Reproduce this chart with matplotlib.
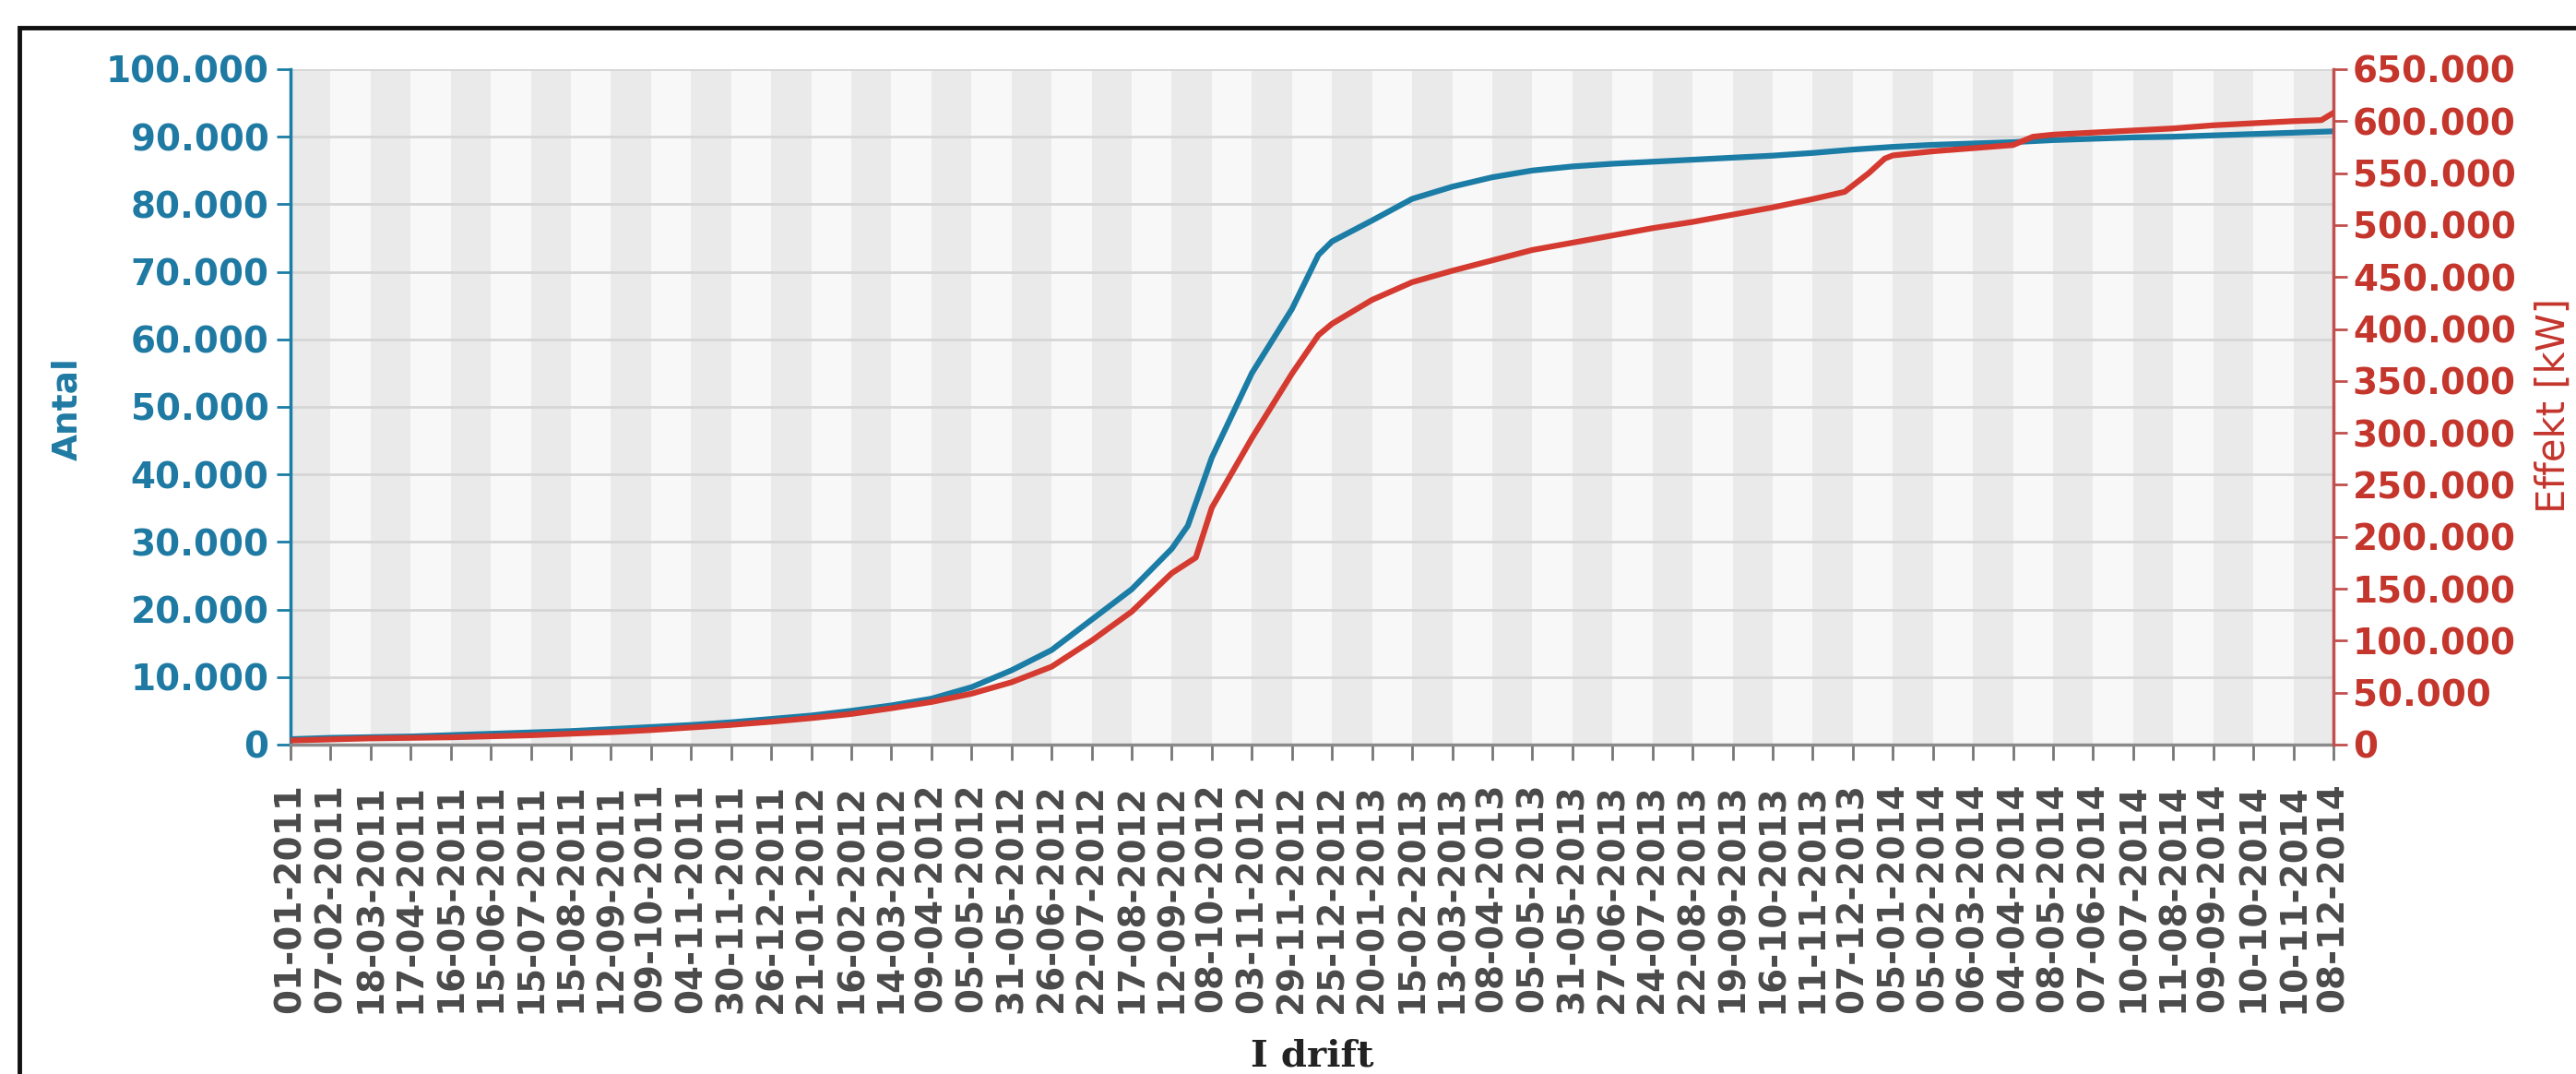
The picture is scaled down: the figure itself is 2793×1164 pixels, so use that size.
import matplotlib
matplotlib.use("Agg")
import matplotlib.pyplot as plt
from matplotlib.patches import Rectangle

# ---------------- data ----------------
date_labels = [
    "01-01-2011", "07-02-2011", "18-03-2011", "17-04-2011", "16-05-2011", "15-06-2011",
    "15-07-2011", "15-08-2011", "12-09-2011", "09-10-2011", "04-11-2011", "30-11-2011",
    "26-12-2011", "21-01-2012", "16-02-2012", "14-03-2012", "09-04-2012", "05-05-2012",
    "31-05-2012", "26-06-2012", "22-07-2012", "17-08-2012", "12-09-2012", "08-10-2012",
    "03-11-2012", "29-11-2012", "25-12-2012", "20-01-2013", "15-02-2013", "13-03-2013",
    "08-04-2013", "05-05-2013", "31-05-2013", "27-06-2013", "24-07-2013", "22-08-2013",
    "19-09-2013", "16-10-2013", "11-11-2013", "07-12-2013", "05-01-2014", "05-02-2014",
    "06-03-2014", "04-04-2014", "08-05-2014", "07-06-2014", "10-07-2014", "11-08-2014",
    "09-09-2014", "10-10-2014", "10-11-2014", "08-12-2014",
]

# Antal (count) series: positions along the category axis and values
antal_pos = [0, 1, 2, 3, 4, 5, 6, 7, 8, 9, 10, 11, 12, 13, 14, 15, 16, 17, 18, 19, 20, 21, 22,
             22.4, 23, 24, 25, 25.66, 26, 27, 28, 29, 30, 31, 32, 33, 34, 35, 36, 37, 38, 39,
             40, 41, 42, 43, 44, 45, 46, 47, 48, 49, 50, 51]
antal_values = [800, 1000, 1100, 1200, 1400, 1600, 1800, 2000, 2300, 2600, 2900, 3300, 3800,
                4300, 5000, 5800, 6800, 8500, 11000, 14000, 18500, 23000, 29000,
                32400, 42500, 55000, 64500, 72500, 74500, 77600, 80800, 82600, 84000, 85000,
                85600, 86000, 86300, 86600, 86900, 87200, 87600, 88100,
                88500, 88800, 89000, 89200, 89500, 89700, 89900, 90000, 90200, 90400, 90600, 90800]

# Effekt [kW] series
effekt_pos = [0, 1, 2, 3, 4, 5, 6, 7, 8, 9, 10, 11, 12, 13, 14, 15, 16, 17, 18, 19, 20, 21, 22,
              22.6, 23, 24, 25, 25.66, 26, 27, 28, 29, 30, 31, 32, 33, 34, 35, 36, 37, 38,
              38.8, 39.4, 39.8, 40, 41, 42, 43, 43.5, 44, 45, 46, 47, 48, 49, 50, 50.7, 51]
effekt_values = [4000, 5000, 6000, 6500, 7000, 8000, 9000, 10500, 12000, 14000, 16500, 19000,
                 22000, 25500, 29500, 35000, 41000, 49000, 60000, 75000, 100000, 128000, 165000,
                 180000, 228000, 295000, 357000, 394000, 405000, 428000, 445000, 456000, 466000,
                 476000, 483000, 490000, 497000, 503000, 510000, 517000, 525000,
                 532000, 550000, 564000, 567000, 571000, 574000, 577000, 585000, 587000, 589000,
                 591000, 593000, 596000, 598000, 600000, 601000, 608000]

left_ticks = list(range(0, 100001, 10000))
right_ticks = list(range(0, 650001, 50000))

# ---------------- style ----------------
BLUE = "#1b7ca6"
BLUE_TXT = "#1f7aa3"
RED = "#d43a2f"
RED_TXT = "#c4352c"
GRAY_TXT = "#4a4a4a"

W, H = 2793, 1164
fig = plt.figure(figsize=(W / 100, H / 100), dpi=100)
fig.patch.set_facecolor("white")

x0, x1 = 315, 2530
y_top, y_bot = 75, 807
ax = fig.add_axes([x0 / W, 1 - y_bot / H, (x1 - x0) / W, (y_bot - y_top) / H])
ax.set_facecolor("#f8f8f8")

n = len(date_labels)
ax.set_xlim(0, n - 1)
ax.set_ylim(0, 100000)

# alternating vertical stripes
for k in range(0, n - 1, 2):
    ax.axvspan(k, k + 1, color="#eaeaea", lw=0, zorder=0)

# horizontal grid
ax.set_yticks(left_ticks)
ax.yaxis.grid(True, color="#d6d6d6", lw=2.0, zorder=1)
ax.xaxis.grid(False)
ax.set_axisbelow(True)

def fmt(v):
    return "0" if v == 0 else f"{int(v):,}".replace(",", ".")

ax.set_yticklabels([fmt(v) for v in left_ticks], color=BLUE_TXT, fontsize=28,
                   fontweight="bold", family="DejaVu Sans")
ax.tick_params(axis="y", direction="out", length=11, width=2, color=BLUE, pad=6)

ax.set_xticks(range(n))
ax.set_xticklabels(date_labels, rotation=90, color=GRAY_TXT, fontsize=28,
                   fontweight="bold", family="DejaVu Sans")
ax.tick_params(axis="x", direction="out", length=12, width=2, color="#777777", pad=18)

for s in ["top", "right"]:
    ax.spines[s].set_visible(False)
ax.spines["left"].set_color(BLUE)
ax.spines["left"].set_linewidth(2.5)
ax.spines["bottom"].set_color("#8a8a8a")
ax.spines["bottom"].set_linewidth(2.5)

ax.plot(antal_pos, antal_values, color=BLUE, lw=4.5, zorder=3, solid_joinstyle="round")

ax2 = ax.twinx()
ax2.set_ylim(0, 650000)
ax2.set_yticks(right_ticks)
ax2.set_yticklabels([fmt(v) for v in right_ticks], color=RED_TXT, fontsize=28,
                    fontweight="bold", family="DejaVu Sans")
ax2.tick_params(axis="y", direction="out", length=11, width=2, color="#c0504d", pad=4)
for s in ["top", "left", "bottom"]:
    ax2.spines[s].set_visible(False)
ax2.spines["right"].set_color("#c0504d")
ax2.spines["right"].set_linewidth(2.5)
ax2.plot(effekt_pos, effekt_values, color=RED, lw=4.5, zorder=3, solid_joinstyle="round")

# axis titles
fig.text(83 / W, 1 - 443 / H, "Antal", rotation=90, rotation_mode="anchor",
         ha="center", va="baseline", color=BLUE_TXT, fontsize=27, fontweight="bold",
         family="DejaVu Sans")
fig.text(2781 / W, 1 - 440 / H, "Effekt [kW]", rotation=90, rotation_mode="anchor",
         ha="center", va="baseline", color=RED_TXT, fontsize=30, family="DejaVu Sans")
fig.text((x0 + x1) / 2 / W, 1 - 1156 / H, "I drift", ha="center", va="baseline",
         color="#222222", fontsize=29, fontweight="bold", family="DejaVu Serif")

# outer black frame (partly cut off at right and bottom)
fig.add_artist(Rectangle((21 / W, -0.2), 1.2, 1.2 - 30 / H, transform=fig.transFigure,
                         fill=False, edgecolor="#111111", lw=3.5))

fig.savefig("out.png", dpi=100)
